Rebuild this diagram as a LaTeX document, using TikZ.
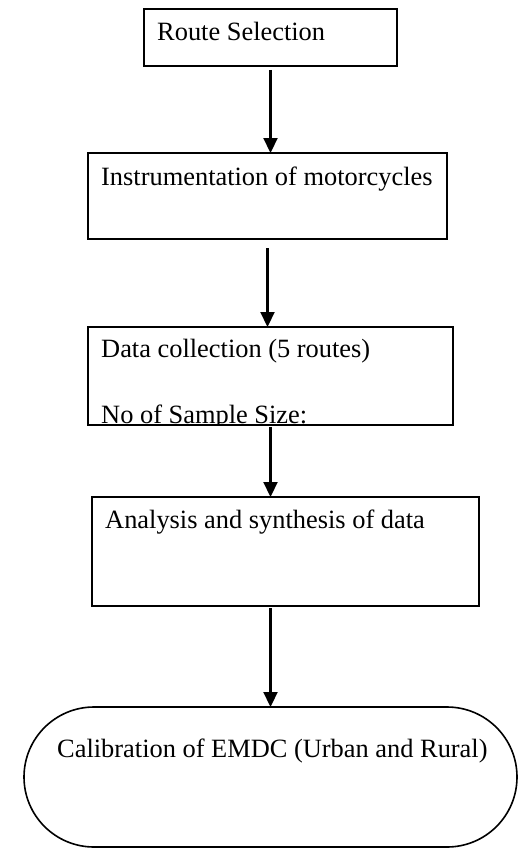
\documentclass[tikz,border=0pt]{standalone}
\usepackage{fontspec}
\setmainfont{Liberation Serif}
\usetikzlibrary{arrows.meta}

\begin{document}
\begin{tikzpicture}[
  x=1pt, y=-1pt,
  stepbox/.style={draw, line width=1.6pt, inner sep=0pt, outer sep=0pt, anchor=north west},
  steptext/.style={anchor=base west, inner sep=0pt, font=\fontsize{26.4}{30}\selectfont},
  arr/.style={line width=2.2pt, -{Triangle[length=15pt,width=14pt]}}
]
\useasboundingbox (0,0) rectangle (518,848);

% process boxes
\node[stepbox, minimum width=253pt, minimum height=57pt]  (b1) at (144,9) {};
\node[stepbox, minimum width=359pt, minimum height=86pt]  (b2) at (88,153) {};
\node[stepbox, minimum width=365pt, minimum height=98pt]  (b3) at (88,327) {};
\node[stepbox, minimum width=387pt, minimum height=109pt] (b4) at (92,497) {};
% terminal (rounded) box
\node[stepbox, rounded corners=70pt, minimum width=493pt, minimum height=140pt] (term) at (24,707) {};

% box texts
\node[steptext] (t1) at (157,41)  {Route Selection};
\node[steptext] (t2) at (101,185) {Instrumentation of motorcycles};
\node[steptext] (t3) at (101,357) {Data collection (5 routes)};
\begin{scope}
  \clip (b3.north west) rectangle ([yshift=1.5pt]b3.south east);
  \node[steptext] (t3b) at (101,423) {No of Sample Size:};
\end{scope}
\node[steptext] (t4) at (105,528) {Analysis and synthesis of data};
\node[steptext] (t5) at (57,757)  {Calibration of EMDC (Urban and Rural)};

% connectors
\draw[arr] ([yshift=-4pt]b1.south) -- (b1.south |- b2.north);
\draw[arr] ([yshift=-9pt]b2.south) -- (b2.south |- b3.north);
\draw[arr] ([yshift=-2pt]b3.south) -- (b3.south |- b4.north);
\draw[arr] ([yshift=-2pt]term.north |- b4.south) -- (term.north);
\end{tikzpicture}
\end{document}
